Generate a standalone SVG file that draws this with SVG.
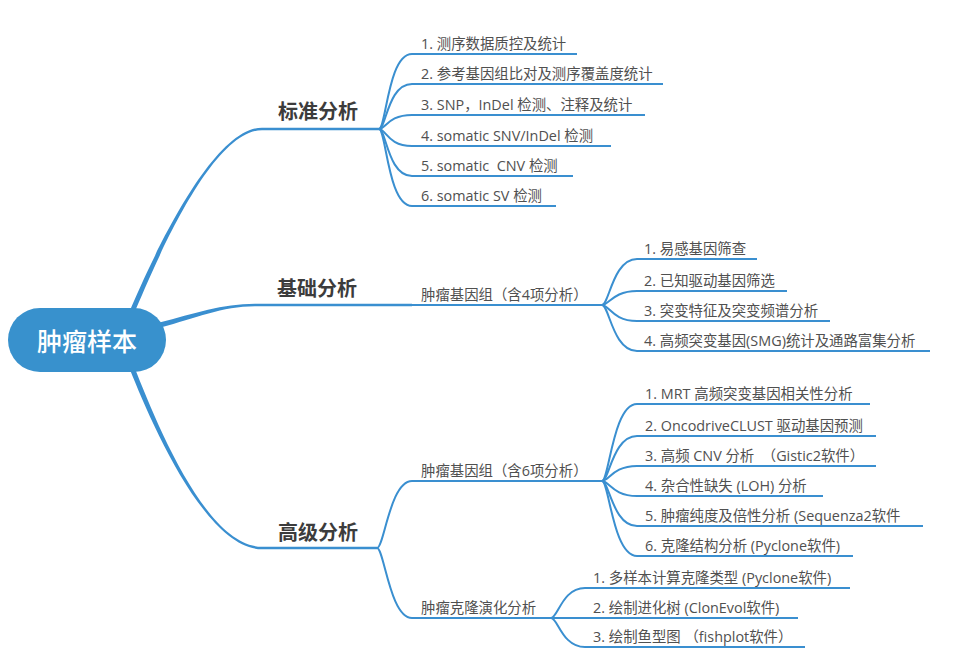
<svg xmlns="http://www.w3.org/2000/svg" width="961" height="671" viewBox="0 0 961 671">
<style>
.br{fill:none;stroke:#3a8fd0;stroke-width:2;stroke-linecap:round}
.hm{fill:none;stroke:#3a8fd0;stroke-width:2.5}
.tp{fill:#3a8fd0}
.ul{stroke:#3a8fd0;stroke-width:2}
.t{font-family:"Open Sans","Noto Sans CJK SC","Microsoft YaHei",sans-serif;font-size:14.4px;fill:#505050;white-space:pre}
.m{font-family:"Noto Sans CJK SC","Microsoft YaHei",sans-serif;font-size:20px;font-weight:bold;fill:#3c3c3c}
.r{font-family:"Noto Sans CJK SC","Microsoft YaHei",sans-serif;font-size:25px;font-weight:500;fill:#ffffff}
</style>
<rect width="961" height="671" fill="#ffffff"/>
<g id="connectors">
  <path class="tp" d="M129.7,311 C147.7,269 210,127.75 262,127.75 L262,130.25 C210,130.25 152.3,271 134.3,313 Z"/>
  <path class="tp" d="M159.4,322.6 C194.4,313.6 222,303.75 255,303.75 L255,306.25 C222,306.25 195.6,318.4 160.6,327.4 Z"/>
  <path class="tp" d="M134.3,367.1 C154.3,417.1 205,546.75 262,546.75 L262,549.25 C205,549.25 149.7,418.9 129.7,368.9 Z"/>
  <path class="br" d="M379,129 C386,129 388,54 412,54"/>
  <path class="br" d="M379,129 C386,129 388,84 412,84"/>
  <path class="br" d="M379,129 C386,129 388,115 412,115"/>
  <path class="br" d="M379,129 C386,129 388,146 412,146"/>
  <path class="br" d="M379,129 C386,129 388,176 412,176"/>
  <path class="br" d="M379,129 C386,129 388,206 412,206"/>
  <path class="br" d="M602,305 C609,305 613,259 637,259"/>
  <path class="br" d="M602,305 C609,305 613,291 637,291"/>
  <path class="br" d="M602,305 C609,305 613,321 637,321"/>
  <path class="br" d="M602,305 C609,305 613,351 637,351"/>
  <path class="br" d="M377,548 C384,548 390,481 412,481"/>
  <path class="br" d="M377,548 C384,548 390,618 412,618"/>
  <path class="br" d="M602,481 C609,481 613,404 637,404"/>
  <path class="br" d="M602,481 C609,481 613,436 637,436"/>
  <path class="br" d="M602,481 C609,481 613,466 637,466"/>
  <path class="br" d="M602,481 C609,481 613,496 637,496"/>
  <path class="br" d="M602,481 C609,481 613,526 637,526"/>
  <path class="br" d="M602,481 C609,481 613,556 637,556"/>
  <path class="br" d="M551,618 C558,618 562,588 585,588"/>
  <path class="br" d="M551,618 L585,618"/>
  <path class="br" d="M551,618 C558,618 562,647 585,647"/>
</g>
<g id="root">
  <rect x="8" y="308" width="158" height="64" rx="32" fill="#3891cd"/>
  <text class="r" x="87" y="351" text-anchor="middle">肿瘤样本</text>
</g>
<g id="std">
  <line class="hm" x1="262" y1="129" x2="379" y2="129"/>
  <text class="m" x="278" y="119">标准分析</text>
</g>
<g id="std1"><line class="ul" x1="412" y1="54" x2="577" y2="54"/><text class="t" x="421" y="48.5">1. 测序数据质控及统计</text></g>
<g id="std2"><line class="ul" x1="412" y1="84" x2="663" y2="84"/><text class="t" x="421" y="78.5">2. 参考基因组比对及测序覆盖度统计</text></g>
<g id="std3"><line class="ul" x1="412" y1="115" x2="645" y2="115"/><text class="t" x="421" y="109.5">3. SNP，InDel 检测、注释及统计</text></g>
<g id="std4"><line class="ul" x1="412" y1="146" x2="611" y2="146"/><text class="t" x="421" y="140.5">4. somatic SNV/InDel 检测</text></g>
<g id="std5"><line class="ul" x1="412" y1="176" x2="573" y2="176"/><text class="t" x="421" y="170.5">5. somatic  CNV 检测</text></g>
<g id="std6"><line class="ul" x1="412" y1="206" x2="556" y2="206"/><text class="t" x="421" y="200.5">6. somatic SV 检测</text></g>
<g id="basic">
  <line class="hm" x1="255" y1="305" x2="412" y2="305"/>
  <text class="m" x="277" y="296">基础分析</text>
</g>
<g id="basic-genome">
  <line class="ul" x1="412" y1="305" x2="602" y2="305"/>
  <text class="t" x="421" y="299.5">肿瘤基因组（含4项分析）</text>
</g>
<g id="b1"><line class="ul" x1="637" y1="259" x2="757" y2="259"/><text class="t" x="644" y="253.5">1. 易感基因筛查</text></g>
<g id="b2"><line class="ul" x1="637" y1="291" x2="787" y2="291"/><text class="t" x="644" y="285.5">2. 已知驱动基因筛选</text></g>
<g id="b3"><line class="ul" x1="637" y1="321" x2="830" y2="321"/><text class="t" x="644" y="315.5">3. 突变特征及突变频谱分析</text></g>
<g id="b4"><line class="ul" x1="637" y1="351" x2="930" y2="351"/><text class="t" x="644" y="345.5">4. 高频突变基因(SMG)统计及通路富集分析</text></g>
<g id="adv">
  <line class="hm" x1="262" y1="548" x2="377" y2="548"/>
  <text class="m" x="278" y="540">高级分析</text>
</g>
<g id="adv-genome">
  <line class="ul" x1="412" y1="481" x2="602" y2="481"/>
  <text class="t" x="421" y="475.5">肿瘤基因组（含6项分析）</text>
</g>
<g id="a1"><line class="ul" x1="637" y1="404" x2="870" y2="404"/><text class="t" x="645" y="398.5">1. MRT 高频突变基因相关性分析</text></g>
<g id="a2"><line class="ul" x1="637" y1="436" x2="876" y2="436"/><text class="t" x="645" y="430.5">2. OncodriveCLUST 驱动基因预测</text></g>
<g id="a3"><line class="ul" x1="637" y1="466" x2="876" y2="466"/><text class="t" x="645" y="460.5">3. 高频 CNV 分析  （Gistic2软件）</text></g>
<g id="a4"><line class="ul" x1="637" y1="496" x2="823" y2="496"/><text class="t" x="645" y="490.5">4. 杂合性缺失 (LOH) 分析</text></g>
<g id="a5"><line class="ul" x1="637" y1="526" x2="923" y2="526"/><text class="t" x="645" y="520.5">5. 肿瘤纯度及倍性分析 (Sequenza2软件</text></g>
<g id="a6"><line class="ul" x1="637" y1="556" x2="853" y2="556"/><text class="t" x="645" y="550.5">6. 克隆结构分析 (Pyclone软件)</text></g>
<g id="adv-clone">
  <line class="ul" x1="412" y1="618" x2="551" y2="618"/>
  <text class="t" x="421" y="612.5">肿瘤克隆演化分析</text>
</g>
<g id="c1"><line class="ul" x1="585" y1="588" x2="850" y2="588"/><text class="t" x="593" y="582.5">1. 多样本计算克隆类型 (Pyclone软件)</text></g>
<g id="c2"><line class="ul" x1="585" y1="618" x2="798" y2="618"/><text class="t" x="593" y="612.5">2. 绘制进化树 (ClonEvol软件)</text></g>
<g id="c3"><line class="ul" x1="585" y1="647" x2="805" y2="647"/><text class="t" x="593" y="641.5">3. 绘制鱼型图 （fishplot软件）</text></g>
</svg>
